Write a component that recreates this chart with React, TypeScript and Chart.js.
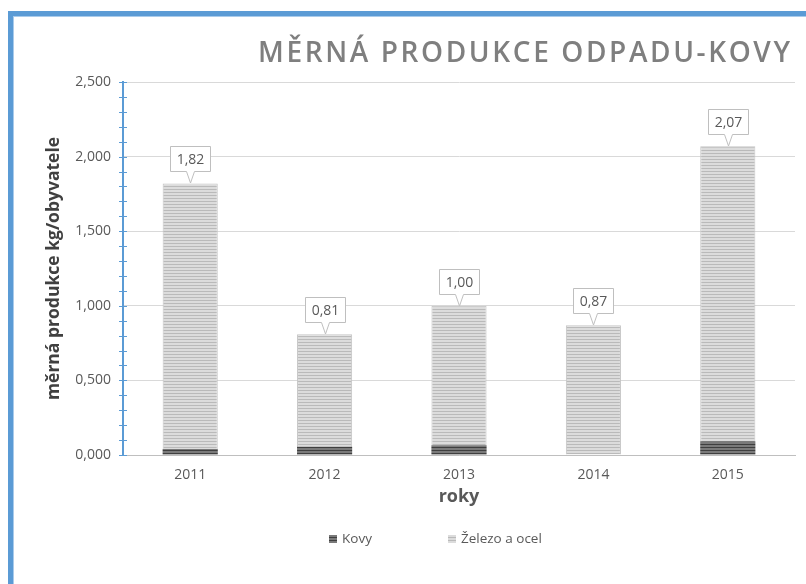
import React, { useEffect, useRef } from "react";
import { Chart, registerables } from "chart.js";

Chart.register(...registerables);

const categories = ["2011", "2012", "2013", "2014", "2015"];
const kovyValues = [0.04, 0.055, 0.065, 0, 0.09];
const zelezoValues = [1.82, 0.81, 1.0, 0.87, 2.07];
const seriesNames = ["Kovy", "Železo a ocel"];
const titleText = "MĚRNÁ PRODUKCE ODPADU-KOVY";
const xTitle = "roky";
const yTitle = "měrná produkce kg/obyvatele";
const yMin = 0;
const yMax = 2.5;
const yStep = 0.5;
const yMinorStep = 0.1;

const FONT = "'Open Sans', Lato, sans-serif";

function makePattern(base: string, stripe: string): CanvasPattern | string {
  const c = document.createElement("canvas");
  c.width = 4;
  c.height = 3;
  const g = c.getContext("2d");
  if (!g) return base;
  g.fillStyle = base;
  g.fillRect(0, 0, 4, 3);
  g.fillStyle = stripe;
  g.fillRect(0, 2, 4, 1);
  return g.createPattern(c, "repeat") || base;
}

const fmt = (v: number, d: number) => v.toFixed(d).replace(".", ",");

export default function App() {
  const ref = useRef<HTMLCanvasElement | null>(null);

  useEffect(() => {
    if (!ref.current) return;
    const kovyFill = makePattern("#7a7a7a", "#3f3f3f");
    const zelFill = makePattern("#dcdcdc", "#bababa");

    const decor = {
      id: "decor",
      afterDatasetsDraw(chart: any) {
        const { ctx } = chart;
        const meta = chart.getDatasetMeta(1);
        ctx.save();
        ctx.font = `14px ${FONT}`;
        meta.data.forEach((bar: any, i: number) => {
          const text = fmt(zelezoValues[i], 2);
          const tw = ctx.measureText(text).width;
          const w = Math.round(tw + 12);
          const h = 25;
          const bx = Math.round(bar.x) + 0.5;
          const tipY = Math.round(bar.y);
          const bottom = tipY - 12 + 0.5;
          const top = bottom - h;
          ctx.beginPath();
          ctx.moveTo(bx - w / 2, top);
          ctx.lineTo(bx + w / 2, top);
          ctx.lineTo(bx + w / 2, bottom);
          ctx.lineTo(bx + 4, bottom);
          ctx.lineTo(bx, tipY);
          ctx.lineTo(bx - 4, bottom);
          ctx.lineTo(bx - w / 2, bottom);
          ctx.closePath();
          ctx.fillStyle = "#ffffff";
          ctx.fill();
          ctx.strokeStyle = "#bfbfbf";
          ctx.lineWidth = 1;
          ctx.stroke();
          ctx.fillStyle = "#595959";
          ctx.textAlign = "center";
          ctx.textBaseline = "middle";
          ctx.fillText(text, bx, top + h / 2 + 1);
        });
        ctx.restore();
      },
      afterDraw(chart: any) {
        const { ctx, chartArea, scales } = chart;
        const y = scales.y;
        ctx.save();
        // minor/major ticks on the y axis
        ctx.strokeStyle = "#5B9BD5";
        ctx.lineWidth = 1;
        const ax = chartArea.left;
        const n = Math.round((yMax - yMin) / yMinorStep);
        for (let i = 0; i <= n; i++) {
          const py = Math.round(y.getPixelForValue(yMin + i * yMinorStep)) + 0.5;
          ctx.beginPath();
          ctx.moveTo(ax - 4, py);
          ctx.lineTo(ax + 4, py);
          ctx.stroke();
        }
        // title
        ctx.font = `600 28px ${FONT}`;
        ctx.fillStyle = "#7f7f7f";
        ctx.textBaseline = "middle";
        ctx.textAlign = "left";
        (ctx as any).letterSpacing = "0px";
        const w0 = ctx.measureText(titleText).width;
        const target = 532;
        const chars = Array.from(titleText).length;
        const sp = (target - w0) / (chars - 1);
        (ctx as any).letterSpacing = `${sp}px`;
        ctx.fillText(titleText, chartArea.right - 5 - target, 38);
        (ctx as any).letterSpacing = "0px";
        // legend
        const cx = (chartArea.left + chartArea.right) / 2;
        const ly = chartArea.bottom + 84;
        const items = [
          { label: seriesNames[0], fill: kovyFill, x: cx - 130 },
          { label: seriesNames[1], fill: zelFill, x: cx - 11 },
        ];
        ctx.font = `13.5px ${FONT}`;
        items.forEach((it) => {
          ctx.fillStyle = it.fill as any;
          ctx.fillRect(it.x, ly - 4, 8, 8);
          ctx.fillStyle = "#595959";
          ctx.textAlign = "left";
          ctx.textBaseline = "middle";
          ctx.fillText(it.label, it.x + 13, ly);
        });
        ctx.restore();
      },
    };

    const chart = new Chart(ref.current, {
      type: "bar",
      data: {
        labels: categories,
        datasets: [
          {
            label: seriesNames[0],
            data: kovyValues,
            backgroundColor: kovyFill as any,
            borderWidth: 0,
            categoryPercentage: 0.41,
            barPercentage: 1,
          },
          {
            label: seriesNames[1],
            data: zelezoValues,
            backgroundColor: zelFill as any,
            borderColor: "#c4c4c4",
            borderWidth: { left: 1, right: 1, top: 1, bottom: 0 } as any,
            categoryPercentage: 0.41,
            barPercentage: 1,
          },
        ],
      },
      options: {
        animation: false,
        responsive: false,
        maintainAspectRatio: false,
        layout: { padding: { top: 66, right: 11, left: 26, bottom: 76 } },
        plugins: {
          legend: { display: false },
          title: { display: false },
          tooltip: { enabled: false },
        },
        scales: {
          x: {
            stacked: true,
            grid: { display: false, drawTicks: false },
            border: { color: "#bfbfbf", width: 1 },
            ticks: { color: "#595959", font: { family: FONT, size: 14 }, padding: 12 },
            title: {
              display: true,
              text: xTitle,
              color: "#595959",
              font: { family: FONT, size: 18, weight: "bold" },
              padding: { top: 4, bottom: 0 },
            },
            afterFit: (s: any) => {
              s.height = 53;
            },
          },
          y: {
            stacked: false,
            min: yMin,
            max: yMax,
            ticks: {
              stepSize: yStep,
              color: "#595959",
              font: { family: FONT, size: 14 },
              padding: 12,
              callback: (v: any) => fmt(Number(v), 3),
            },
            grid: { color: "#d9d9d9", drawTicks: false },
            border: { color: "#5B9BD5", width: 2 },
            title: {
              display: true,
              text: yTitle,
              color: "#404040",
              font: { family: FONT, size: 17.5, weight: "bold" },
              padding: { top: 4, bottom: 4 },
            },
            afterFit: (s: any) => {
              s.width = 83;
            },
          },
        },
      },
      plugins: [decor],
    });
    return () => chart.destroy();
  }, []);

  return (
    <div
      style={{
        position: "fixed",
        left: 8,
        top: 11,
        width: 798,
        height: 573,
        boxSizing: "border-box",
        borderLeft: "5px solid #5B9BD5",
        borderTop: "5px solid #5B9BD5",
        boxShadow: "inset 1px 1px 0 #a9cbeb",
        background: "#ffffff",
      }}
    >
      <canvas
        ref={ref}
        width={792}
        height={568}
        style={{ display: "block", position: "absolute", left: 1, top: 0 }}
      />
    </div>
  );
}
